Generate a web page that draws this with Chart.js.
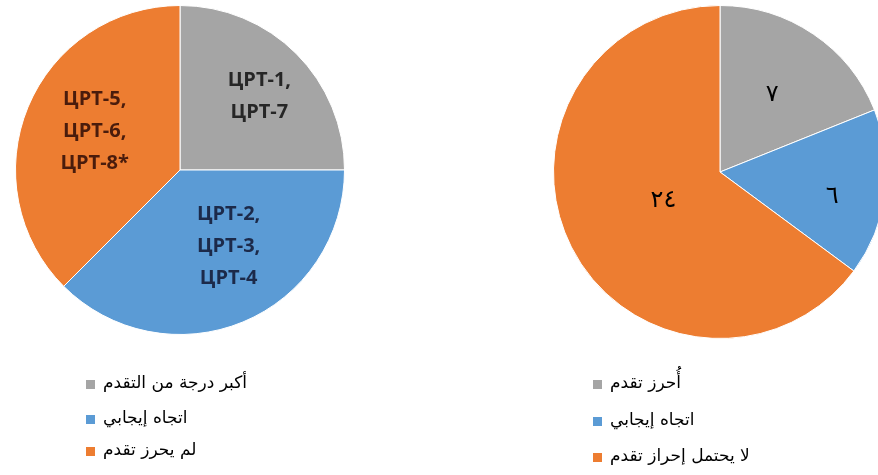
<!DOCTYPE html>
<html>
<head>
<meta charset="utf-8">
<script src="https://cdn.jsdelivr.net/npm/chart.js@4.4.1/dist/chart.umd.min.js"></script>
<style>
  html, body { margin: 0; padding: 0; background: #fff; overflow: hidden; }
  body { width: 878px; height: 475px; position: relative; }
  #leftPie { position: absolute; left: 0; top: 0; }
  #rightPie { position: absolute; left: 439px; top: 0; }
</style>
</head>
<body>
<canvas id="leftPie" width="439" height="475"></canvas>
<canvas id="rightPie" width="460" height="475"></canvas>
<script>
// left chart: goals by status
var leftLabels = ['أكبر درجة من التقدم', 'اتجاه إيجابي', 'لم يحرز تقدم'];
var leftValues = [2, 3, 3];
var leftSliceText = [['ЦРТ-1,', 'ЦРТ-7'], ['ЦРТ-2,', 'ЦРТ-3,', 'ЦРТ-4'], ['ЦРТ-5,', 'ЦРТ-6,', 'ЦРТ-8*']];

// right chart: targets by status
var rightLabels = ['أُحرز تقدم', 'اتجاه إيجابي', 'لا يحتمل إحراز تقدم'];
var rightValues = [7, 6, 24];

var sliceColors = ['#a5a5a5', '#5b9bd5', '#ed7d31'];
var leftTextColors = ['#262626', '#1c2a4a', '#4a1c0c'];

function arabicDigits(n) {
  var d = ['٠','١','٢','٣','٤','٥','٦','٧','٨','٩'];
  return String(n).split('').map(function (c) { return d[+c]; }).join('');
}

// draws the slice labels at a fraction of the radius, near the mid angle
function sliceTextPlugin(lines, font, colors, fractions, shifts, lineH) {
  return {
    id: 'sliceText',
    afterDatasetsDraw(chart) {
      const ctx = chart.ctx;
      const meta = chart.getDatasetMeta(0);
      ctx.save();
      ctx.font = font;
      ctx.textAlign = 'center';
      ctx.textBaseline = 'middle';
      meta.data.forEach(function (arc, i) {
        const mid = (arc.startAngle + arc.endAngle) / 2 + shifts[i] * Math.PI / 180;
        const r = arc.outerRadius * fractions[i];
        const x = arc.x + Math.cos(mid) * r;
        const y = arc.y + Math.sin(mid) * r;
        const txt = lines[i];
        ctx.fillStyle = colors[i];
        txt.forEach(function (t, k) {
          ctx.fillText(t, x, y + (k - (txt.length - 1) / 2) * lineH);
        });
      });
      ctx.restore();
    }
  };
}

// vertical legend below the pie, square then right-to-left text
function legendPlugin(x, rows) {
  return {
    id: 'vlegend',
    afterDraw(chart) {
      const ctx = chart.ctx;
      ctx.save();
      ctx.font = '17px "DejaVu Sans"';
      ctx.textBaseline = 'middle';
      chart.data.labels.forEach(function (lab, i) {
        ctx.fillStyle = chart.data.datasets[0].backgroundColor[i];
        ctx.fillRect(x, rows[i] - 4, 9, 9);
        ctx.fillStyle = '#000';
        ctx.direction = 'rtl';
        ctx.textAlign = 'left';
        ctx.fillText(lab, x + 17, rows[i]);
      });
      ctx.restore();
    }
  };
}

var baseOptions = function (pad) {
  return {
    responsive: false,
    animation: false,
    rotation: 0,
    layout: { padding: pad },
    plugins: { legend: { display: false }, tooltip: { enabled: false } }
  };
};

new Chart(document.getElementById('leftPie').getContext('2d'), {
  type: 'pie',
  data: {
    labels: leftLabels,
    datasets: [{ data: leftValues, backgroundColor: sliceColors, borderColor: '#ffffff', borderWidth: 1 }]
  },
  options: baseOptions({ left: 15, right: 94, top: 5, bottom: 140 }),
  plugins: [
    sliceTextPlugin(leftSliceText, 'bold 20px "Open Sans"', leftTextColors, [0.66, 0.55, 0.57], [2, -10, 2], 32),
    legendPlugin(86, [384, 419, 451])
  ]
});

new Chart(document.getElementById('rightPie').getContext('2d'), {
  type: 'pie',
  data: {
    labels: rightLabels,
    datasets: [{ data: rightValues, backgroundColor: sliceColors, borderColor: '#ffffff', borderWidth: 1 }]
  },
  options: baseOptions({ left: 114, right: 12, top: 5, bottom: 136 }),
  plugins: [
    sliceTextPlugin(rightValues.map(function (v) { return [arabicDigits(v)]; }),
      '24px "DejaVu Serif", "DejaVu Sans"', ['#000', '#000', '#000'], [0.56, 0.69, 0.38], [0, 5, 0], 0),
    legendPlugin(154, [384, 421, 457])
  ]
});
</script>
</body>
</html>
